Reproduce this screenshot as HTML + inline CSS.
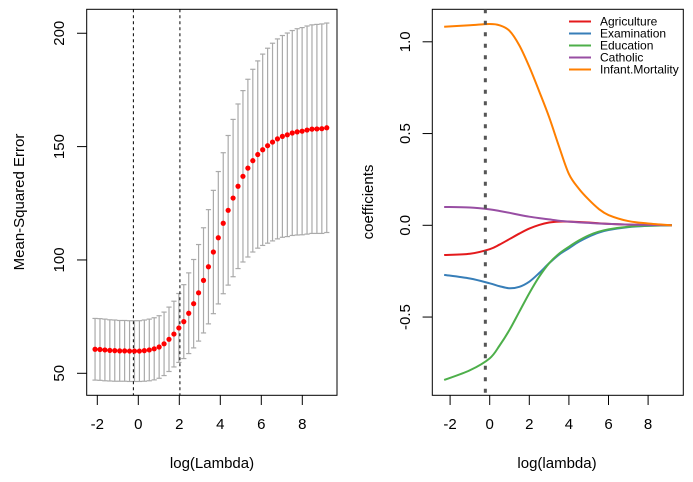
<!DOCTYPE html>
<html><head><meta charset="utf-8"><style>
html,body{margin:0;padding:0;background:#fff;}
svg{display:block;font-family:"Liberation Sans",Arial,sans-serif;}
</style></head><body>
<svg id="chart" width="693" height="482" viewBox="0 0 693 482" xmlns="http://www.w3.org/2000/svg">
<g id="left"></g>
<g id="right"></g>
</svg>
<script>
// ---- Left panel data (cv MSE) ----
const cvLogLambdaStart = -2.11;
const cvLogLambdaStep = 0.2405;
const mseMean = [60.6,60.5,60.3,60.1,60.0,59.9,59.9,59.8,59.8,59.8,60.0,60.3,60.8,61.6,63.0,65.0,67.3,70.0,72.8,76.5,80.7,85.5,91,97,103.5,109.8,116.2,121.9,127.3,132.5,136.9,140.5,143.8,146.5,148.6,150.4,152,153.4,154.5,155.2,156,156.5,156.8,157.3,157.7,157.8,157.9,158.3];
const mseSE = [13.6,13.6,13.6,13.5,13.5,13.4,13.4,13.4,13.4,13.4,13.5,13.6,13.7,13.8,14.0,14.2,14.5,15.2,16.3,17.8,19.5,21.3,23.2,25.2,27.2,29.2,31.1,33,34.7,36.3,37.8,39.2,40.3,41.3,42.2,43,43.6,44.1,44.5,44.9,45.2,45.5,45.7,45.9,46,46.1,46.2,46.2];
const cvVLines = [-0.24, 2.03];
const leftXTicks = [-2,0,2,4,6,8];
const leftYTicks = [50,100,150,200];

// ---- Right panel data (coefficient paths) ----
const pathLogLambda = [-2.3,-1,0,0.5,1,1.5,2,2.5,3,3.5,4,4.5,5,5.5,6,7,8,9.2];
const coefAgriculture = [-0.162,-0.155,-0.13,-0.105,-0.075,-0.045,-0.018,0.002,0.015,0.02,0.02,0.018,0.015,0.011,0.008,0.004,0.002,0];
const coefExamination = [-0.27,-0.29,-0.316,-0.332,-0.343,-0.335,-0.307,-0.26,-0.207,-0.16,-0.125,-0.09,-0.062,-0.04,-0.026,-0.01,-0.003,0];
const coefEducation = [-0.843,-0.79,-0.725,-0.655,-0.57,-0.47,-0.37,-0.28,-0.207,-0.155,-0.117,-0.083,-0.055,-0.035,-0.022,-0.008,-0.002,0];
const coefCatholic = [0.10,0.097,0.087,0.078,0.068,0.057,0.047,0.039,0.032,0.025,0.02,0.016,0.013,0.01,0.008,0.004,0.002,0];
const coefInfant = [1.082,1.09,1.097,1.09,1.06,0.98,0.864,0.73,0.59,0.43,0.28,0.2,0.14,0.09,0.056,0.023,0.01,0];
const seriesNames = ["Agriculture","Examination","Education","Catholic","Infant.Mortality"];
const seriesColors = ["#e41a1c","#377eb8","#4daf4a","#984ea3","#ff7f00"];
const pathVLine = -0.22;
const rightXTicks = [-2,0,2,4,6,8];
const rightYTicks = [-0.5,0,0.5,1.0];
const rightYTickLabels = ["-0.5","0.0","0.5","1.0"];

const NS="http://www.w3.org/2000/svg";
function mk(parent,tag,attrs){const e=document.createElementNS(NS,tag);for(const k in attrs)e.setAttribute(k,attrs[k]);parent.appendChild(e);return e;}

// Left scales
const lx = v => 138.3 + v*20.5;
const ly = v => 373.3 - (v-50)*2.267;
const L = document.getElementById('left');
let box = mk(L,'rect',{x:86.7,y:9.3,width:250.3,height:386,fill:'none',stroke:'#000','stroke-width':1});


mseMean.forEach((m,i)=>{
  const x=lx(cvLogLambdaStart+i*cvLogLambdaStep), s=mseSE[i];
  const g=mk(L,'g',{stroke:'#aaa','stroke-width':1.2});
  
  
  mk(g,'line',{x1:x,x2:x,y1:ly(m+s),y2:ly(m-s)});
  mk(g,'line',{x1:x-2.6,x2:x+2.6,y1:ly(m+s),y2:ly(m+s)});
  mk(g,'line',{x1:x-2.6,x2:x+2.6,y1:ly(m-s),y2:ly(m-s)});
});
cvVLines.forEach(v=>{
  const l=mk(L,'line',{x1:lx(v),x2:lx(v),y1:9.3,y2:395.3,stroke:'#000','stroke-width':1,'stroke-dasharray':'3 3'});
  
  
});
mseMean.forEach((m,i)=>{
  const c=mk(L,'circle',{cx:lx(cvLogLambdaStart+i*cvLogLambdaStep),cy:ly(m),r:2.6,fill:'#ff0000'});
  
  
});
leftXTicks.forEach(t=>{
  mk(L,'line',{x1:lx(t),x2:lx(t),y1:395.3,y2:405,stroke:'#000'});
  const tx=mk(L,'text',{x:lx(t),y:429,'font-size':15,'text-anchor':'middle'});
  tx.textContent=t;
  
  
});
leftYTicks.forEach(t=>{
  mk(L,'line',{x1:77,x2:86.7,y1:ly(t),y2:ly(t),stroke:'#000'});
  const tx=mk(L,'text',{x:0,y:0,'font-size':15,'text-anchor':'middle',transform:`translate(64,${ly(t)}) rotate(-90)`});
  tx.textContent=t;
  
  
});
let t1=mk(L,'text',{x:212,y:468,'font-size':15,'text-anchor':'middle'});t1.textContent='log(Lambda)';


let t2=mk(L,'text',{x:0,y:0,'font-size':15,'text-anchor':'middle',transform:'translate(24,202) rotate(-90)'});t2.textContent='Mean-Squared Error';



// Right scales
const rx = v => 489.7 + v*19.8;
const ry = v => 225.3 - v*183.5;
const R = document.getElementById('right');
box = mk(R,'rect',{x:432.3,y:9.3,width:251,height:386,fill:'none',stroke:'#000','stroke-width':1});


const allSeries=[coefAgriculture,coefExamination,coefEducation,coefCatholic,coefInfant];
function smooth(xs,ys){
  const p=xs.map((x,i)=>[rx(x),ry(ys[i])]);
  let d=`M${p[0][0]},${p[0][1]}`;
  for(let i=0;i<p.length-1;i++){
    const p0=p[Math.max(0,i-1)],p1=p[i],p2=p[i+1],p3=p[Math.min(p.length-1,i+2)];
    d+=` C${p1[0]+(p2[0]-p0[0])/6},${p1[1]+(p2[1]-p0[1])/6} ${p2[0]-(p3[0]-p1[0])/6},${p2[1]-(p3[1]-p1[1])/6} ${p2[0]},${p2[1]}`;
  }
  return d;
}
allSeries.forEach((s,k)=>{
  const path=mk(R,'path',{d:smooth(pathLogLambda,s),fill:'none',stroke:seriesColors[k],'stroke-width':2});
  
  
});
const vl=mk(R,'line',{x1:rx(pathVLine),x2:rx(pathVLine),y1:9.3,y2:395.3,stroke:'#555','stroke-width':3,'stroke-dasharray':'4 7.5'});


rightXTicks.forEach(t=>{
  mk(R,'line',{x1:rx(t),x2:rx(t),y1:395.3,y2:405,stroke:'#000'});
  const tx=mk(R,'text',{x:rx(t),y:429,'font-size':15,'text-anchor':'middle'});
  tx.textContent=t;
  
  
});
rightYTicks.forEach((t,i)=>{
  mk(R,'line',{x1:422.6,x2:432.3,y1:ry(t),y2:ry(t),stroke:'#000'});
  const tx=mk(R,'text',{x:0,y:0,'font-size':15,'text-anchor':'middle',transform:`translate(410,${ry(t)}) rotate(-90)`});
  tx.textContent=rightYTickLabels[i];
  
  
});
let t3=mk(R,'text',{x:557,y:468,'font-size':15,'text-anchor':'middle'});t3.textContent='log(lambda)';


let t4=mk(R,'text',{x:0,y:0,'font-size':15,'text-anchor':'middle',transform:'translate(373,202) rotate(-90)'});t4.textContent='coefficients';


const lg=mk(R,'g',{});


seriesNames.forEach((n,k)=>{
  const y=21.5+k*12;
  const e=mk(lg,'g',{});
  
  
  mk(e,'line',{x1:569,x2:591,y1:y,y2:y,stroke:seriesColors[k],'stroke-width':2});
  const tx=mk(e,'text',{x:600,y:y+4,'font-size':12});
  tx.textContent=n;
});
</script>
</body></html>
